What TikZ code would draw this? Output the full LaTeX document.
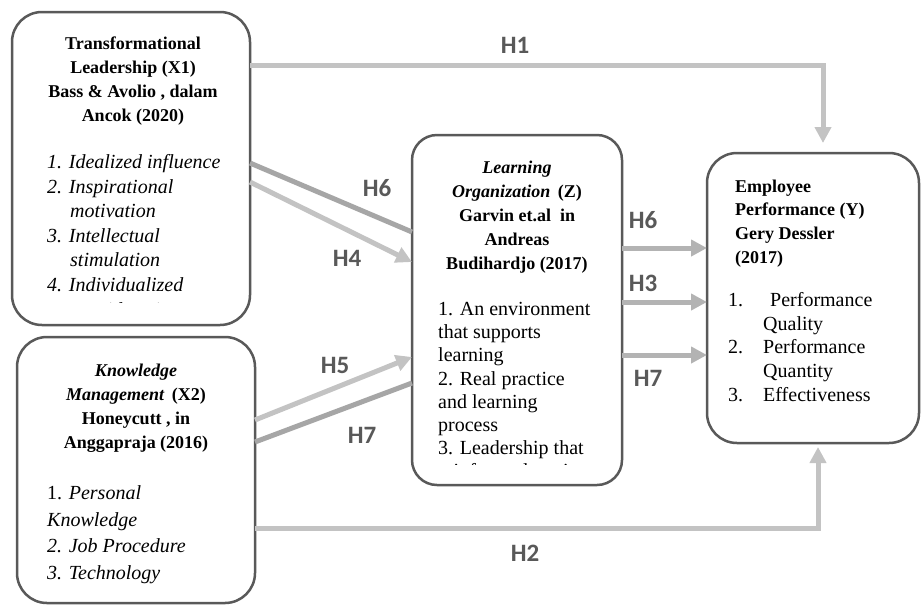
\documentclass[tikz,border=0pt]{standalone}
\usepackage{fontspec}
\setmainfont{Liberation Serif}
\newfontfamily\hfont{Carlito}
\usetikzlibrary{arrows.meta}
\definecolor{boxline}{HTML}{595959}
\definecolor{lightc}{HTML}{C3C3C3}
\definecolor{darkc}{HTML}{A6A6A6}
\definecolor{midc}{HTML}{B3B3B3}
\definecolor{labc}{HTML}{595959}
\begin{document}
\begin{tikzpicture}[x=1pt,y=-1pt,
  box/.style={draw=boxline, line width=2.5pt, rounded corners=30pt, fill=white, inner sep=0pt, outer sep=0pt},
  hdr/.style={anchor=base, align=center, inner sep=0pt, font=\fontsize{18}{24.2}\selectfont\bfseries},
  hdrl/.style={anchor=base west, align=left, inner sep=0pt, font=\fontsize{18}{23.8}\selectfont\bfseries},
  lst/.style={anchor=base west, align=left, inner sep=0pt, font=\fontsize{20}{24.6}\selectfont},
  hl/.style={font=\hfont\bfseries\fontsize{25}{25}\selectfont, text=labc, inner sep=0pt},
  conn/.style={line width=5pt},
  tip/.style={-{Triangle[length=16pt,width=16pt]}},
]
\useasboundingbox[fill=white] (0,0) rectangle (921,606);

% boxes (shapes)
\node[box, minimum width=238pt, minimum height=313pt] (x1) at (131,168.5) {};
\node[box, minimum width=238pt, minimum height=266pt] (x2) at (136,470) {};
\node[box, rounded corners=25pt, minimum width=210pt, minimum height=350pt] (z) at (517,310) {};
\node[box, minimum width=212pt, minimum height=290pt] (y) at (813,298) {};

% level coordinates
\coordinate (l65) at (0,65);
\coordinate (l528) at (0,528);
\coordinate (h1x) at (823,0);
\coordinate (h2x) at (818,0);
\coordinate (l163) at (0,163);
\coordinate (l232) at (0,232);
\coordinate (l182) at (0,182);
\coordinate (l262) at (0,262);
\coordinate (l420) at (0,420);
\coordinate (l357) at (0,357);
\coordinate (l442) at (0,442);
\coordinate (l383) at (0,383);
\coordinate (l248) at (0,248);
\coordinate (l302) at (0,302);
\coordinate (l355) at (0,355);

% connectors
\draw[conn, draw=lightc, tip, shorten >=10pt] (x1.east |- l65) -| (h1x |- y.north);
\draw[conn, draw=lightc, tip, shorten >=4pt] (x2.east |- l528) -| (h2x |- y.south);
\draw[conn, draw=darkc] (x1.east |- l163) -- (z.west |- l232);
\draw[conn, draw=lightc, tip] (x1.east |- l182) -- (z.west |- l262);
\draw[conn, draw=lightc, tip] (x2.east |- l420) -- (z.west |- l357);
\draw[conn, draw=darkc] (x2.east |- l442) -- (z.west |- l383);
\draw[conn, draw=midc, tip] (z.east |- l248) -- (y.west |- l248);
\draw[conn, draw=midc, tip] (z.east |- l302) -- (y.west |- l302);
\draw[conn, draw=midc, tip] (z.east |- l355) -- (y.west |- l355);

% X1 text (anchor = baseline of last line)
\node[hdr] (x1h) at (133,121.6) {Transformational\\Leadership (X1)\\Bass \& Avolio , dalam\\Ancok (2020)};
\begin{scope}
\clip (14,14) rectangle (248,302.5);
\node[lst, font=\fontsize{20}{24.6}\selectfont\itshape] (x1l) at (47,316.1) {1. Idealized influence\\2. Inspirational\\\hspace*{23pt}motivation\\3. Intellectual\\\hspace*{23pt}stimulation\\4. Individualized\\\hspace*{23pt}consideration};
\end{scope}

% X2 text
\node[hdr, font=\fontsize{18}{24.3}\selectfont\bfseries] (x2h) at (136,448.9) {\textit{Knowledge}\\\textit{Management}\, (X2)\\Honeycutt , in\\Anggapraja (2016)};
\node[lst, font=\fontsize{20}{26.7}\selectfont] (x2l) at (47,579.6) {1. \textit{Personal}\\\textit{Knowledge}\\\textit{2. Job Procedure}\\\textit{3. Technology}};

% Z text
\node[hdr, font=\fontsize{18}{24}\selectfont\bfseries] (zh) at (517,269) {\textit{Learning}\\\textit{Organization}\, (Z)\\Garvin et.al\ \ in\\Andreas\\Budihardjo (2017)};
\begin{scope}
\clip (414,137) rectangle (620,464);
\node[lst, font=\fontsize{20}{23.2}\selectfont] (zl) at (438,477.9) {1. An environment\\that supports\\learning\\2. Real practice\\and learning\\process\\3. Leadership that\\reinforces learning};
\end{scope}

% Y text
\node[hdrl] (yh) at (735,263.4) {Employee\\Performance (Y)\\Gery Dessler\\(2017)};
\node[lst, font=\fontsize{20}{23.7}\selectfont] (yl) at (728,401.3) {\makebox[35pt][l]{1.}\hspace{7pt}Performance\\\hspace*{35pt}Quality\\\makebox[35pt][l]{2.}Performance\\\hspace*{35pt}Quantity\\\makebox[35pt][l]{3.}Effectiveness};

% labels
\node[hl] (lh1) at (515,45) {H1};
\node[hl] (lh6a) at (377,188) {H6};
\node[hl] (lh4) at (347,258) {H4};
\node[hl] (lh5) at (335,365) {H5};
\node[hl] (lh7a) at (362,435) {H7};
\node[hl] (lh6b) at (643,220) {H6};
\node[hl] (lh3) at (643,283) {H3};
\node[hl] (lh7b) at (648,378) {H7};
\node[hl] (lh2) at (525,553) {H2};
\end{tikzpicture}
\end{document}
